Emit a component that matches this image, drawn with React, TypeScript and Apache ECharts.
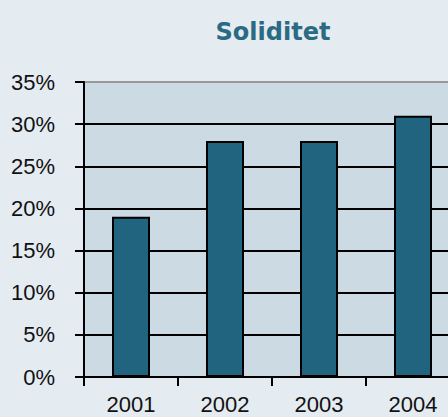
import React, { useEffect, useRef } from "react";
import * as echarts from "echarts";

const categories = ["2001", "2002", "2003", "2004"];
const values = [19, 28, 28, 31];
const yTicks = [0, 5, 10, 15, 20, 25, 30, 35];

export default function App() {
  const ref = useRef<HTMLDivElement>(null);
  useEffect(() => {
    if (!ref.current) return;
    const chart = echarts.init(ref.current, null, { renderer: "svg" });
    chart.setOption({
      animation: false,
      backgroundColor: "#e4ebf1",
      title: {
        text: "Soliditet",
        left: 268,
        textAlign: "center",
        top: 15,
        textStyle: {
          fontFamily: "DejaVu Sans",
          fontWeight: "bold",
          fontSize: 24,
          color: "#2a6a82",
        },
      },
      grid: {
        left: 84,
        top: 82,
        width: 376,
        height: 295,
        backgroundColor: "#ccdae3",
        show: true,
        borderWidth: 0,
      },
      xAxis: {
        type: "category",
        data: categories,
        axisLine: { lineStyle: { color: "#000", width: 2 } },
        axisTick: { show: true, length: 9, lineStyle: { color: "#000", width: 2 } },
        axisLabel: {
          color: "#111",
          fontFamily: "Liberation Sans",
          fontSize: 22,
          margin: 16,
        },
      },
      yAxis: {
        type: "value",
        min: 0,
        max: yTicks[yTicks.length - 1],
        interval: 5,
        axisLine: { show: true, lineStyle: { color: "#000", width: 2 } },
        axisTick: { show: true, length: 9, lineStyle: { color: "#000", width: 2 } },
        axisLabel: {
          formatter: (v: number) => v + "%",
          color: "#111",
          fontFamily: "Liberation Sans",
          fontSize: 22,
          margin: 29,
        },
        splitLine: {
          show: true,
          lineStyle: {
            color: ["#000", "#000", "#000", "#000", "#000", "#000", "#000", "#999"],
            width: 2,
          },
        },
      },
      series: [
        {
          type: "bar",
          data: values,
          barWidth: 38,
          itemStyle: { color: "#21647f", borderColor: "#000", borderWidth: 2 },
        },
      ],
    });
    return () => chart.dispose();
  }, []);
  return (
    <div
      ref={ref}
      style={{ position: "fixed", left: 0, top: 0, width: 470, height: 417 }}
    />
  );
}
